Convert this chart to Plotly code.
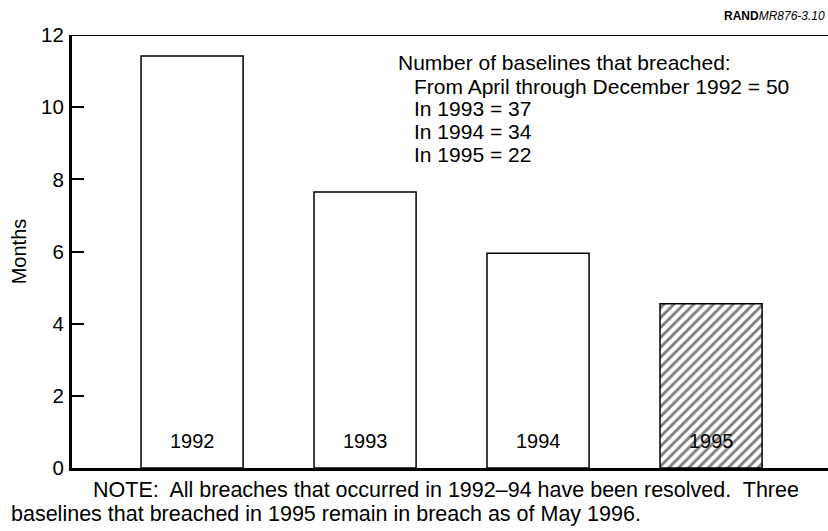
import plotly.graph_objects as go

years = ["1992", "1993", "1994", "1995"]
months = [11.42, 7.65, 5.95, 4.55]
patterns = ["", "", "", "/"]

breach_header = "Number of baselines that breached:"
breach_lines = [
    "From April through December 1992 = 50",
    "In 1993 = 37",
    "In 1994 = 34",
    "In 1995 = 22",
]
note_lines = [
    "NOTE:  All breaches that occurred in 1992\u201394 have been resolved.  Three",
    "baselines that breached in 1995 remain in breach as of May 1996.",
]

font = "Liberation Sans, Arial, sans-serif"
W, H = 828, 531
L, R, T, B = 72, 0, 35, 63
pw, ph = W - L - R, H - T - B


def px_x(p):
    return (p - L) / pw


def px_y(p):
    return (H - B - p) / ph


def txt(size=21):
    return dict(size=size, color="black", family=font)


fig = go.Figure()

fig.add_trace(
    go.Bar(
        x=list(range(len(years))),
        y=months,
        width=0.59,
        marker=dict(
            color="white",
            line=dict(color="black", width=1.5),
            pattern=dict(shape=patterns, fgcolor="black", bgcolor="white", size=7, solidity=0.42),
        ),
        hoverinfo="skip",
    )
)

# year labels inside the bars, near the bottom
for i, yr in enumerate(years):
    fig.add_annotation(
        x=i, y=0, text=yr, showarrow=False, yanchor="middle", yshift=27, font=txt(20),
    )

fig.add_annotation(
    xref="paper", yref="paper", x=px_x(396), y=px_y(63), text=breach_header,
    showarrow=False, xanchor="left", yanchor="middle", font=txt(),
)
for k, line in enumerate(breach_lines):
    fig.add_annotation(
        xref="paper", yref="paper", x=px_x(412), y=px_y(86 + 22.7 * k), text=line,
        showarrow=False, xanchor="left", yanchor="middle", font=txt(),
    )

fig.add_annotation(
    xref="paper", yref="paper", x=px_x(91), y=px_y(490), text=note_lines[0],
    showarrow=False, xanchor="left", yanchor="middle", font=txt(21.5),
)
fig.add_annotation(
    xref="paper", yref="paper", x=px_x(9), y=px_y(514), text=note_lines[1],
    showarrow=False, xanchor="left", yanchor="middle", font=txt(21.5),
)

fig.add_annotation(
    xref="paper", yref="paper", x=px_x(722), y=px_y(16),
    text="<b>RAND</b><i>MR876-3.10</i>", showarrow=False, xanchor="left", yanchor="middle",
    font=txt(12),
)

# top frame line
fig.add_shape(
    type="line", xref="paper", yref="y", x0=0, x1=1, y0=12, y1=12,
    line=dict(color="black", width=2),
)

fig.update_xaxes(
    range=[-0.694, 3.676],
    showticklabels=False,
    ticks="",
    showgrid=False,
    zeroline=False,
    showline=True,
    linecolor="black",
    linewidth=3,
    automargin=False,
)
fig.update_yaxes(
    range=[0, 12],
    tickvals=[0, 2, 4, 6, 8, 10, 12],
    ticks="inside",
    ticklen=12,
    tickwidth=1.5,
    tickcolor="black",
    showgrid=False,
    zeroline=False,
    showline=True,
    linecolor="black",
    linewidth=3,
    ticklabelstandoff=1,
    tickfont=txt(20.5),
    title=dict(text="Months", font=txt(20), standoff=10),
    automargin=False,
)

fig.update_layout(
    width=W,
    height=H,
    margin=dict(l=L, r=R, t=T, b=B),
    plot_bgcolor="white",
    paper_bgcolor="white",
    showlegend=False,
    bargap=0.4,
)

# drop the browser's default body margin so the figure fills the window
fig.write_html(
    "out.html",
    config={"displayModeBar": False},
    post_script="document.body.style.margin='0';",
)
